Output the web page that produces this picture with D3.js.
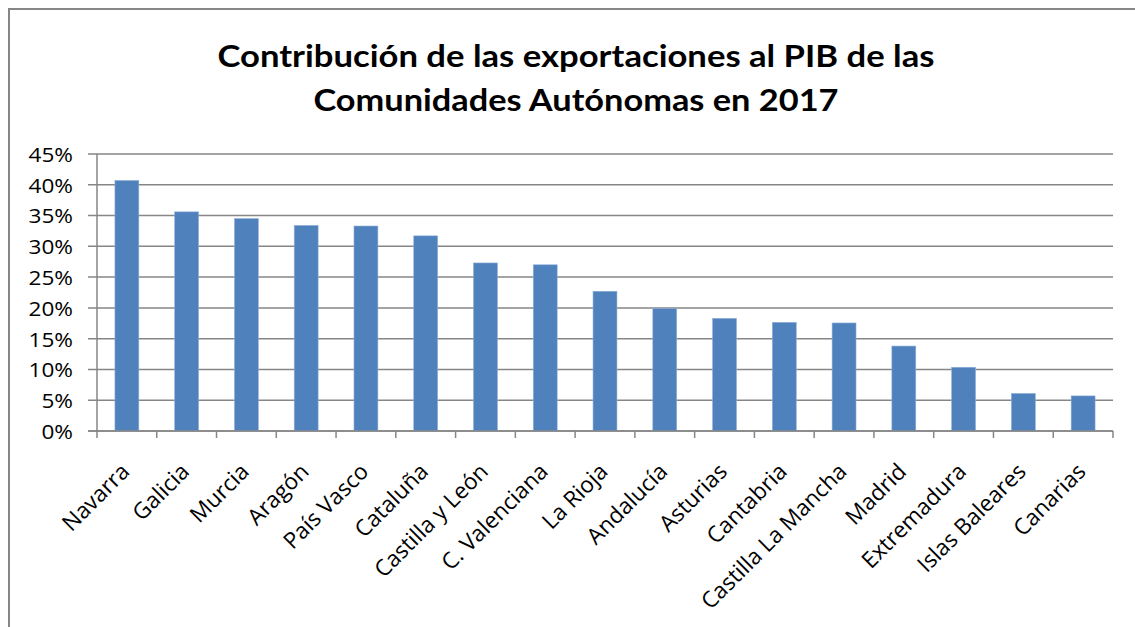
<!DOCTYPE html>
<html>
<head>
<meta charset="utf-8">
<script src="https://cdn.jsdelivr.net/npm/d3@7"></script>
<style>
  html, body { margin: 0; padding: 0; background: #fff; }
  svg { display: block; }
</style>
</head>
<body>
<svg id="chart" width="1135" height="627"></svg>
<script>
const titleLines = ["Contribución de las exportaciones al PIB de las", "Comunidades Autónomas en 2017"];
const categories = ["Navarra", "Galicia", "Murcia", "Aragón", "País Vasco", "Cataluña", "Castilla y León",
  "C. Valenciana", "La Rioja", "Andalucía", "Asturias", "Cantabria", "Castilla La Mancha", "Madrid",
  "Extremadura", "Islas Baleares", "Canarias"];
const values = [0.407, 0.356, 0.345, 0.334, 0.333, 0.317, 0.273, 0.270, 0.227, 0.199, 0.183, 0.1765, 0.1755,
  0.138, 0.1035, 0.061, 0.057];
const yTicks = [0, 0.05, 0.10, 0.15, 0.20, 0.25, 0.30, 0.35, 0.40, 0.45];

(function () {
const svg = d3.select("#chart");
const FONT = "'Open Sans', 'Noto Sans', sans-serif";
const TITLE_FONT = "Lato, 'Open Sans', sans-serif";

// chart border
svg.append("rect")
  .attr("x", 9).attr("y", 9).attr("width", 1140).attr("height", 640)
  .attr("fill", "#fff").attr("stroke", "#868686").attr("stroke-width", 2);

const pLeft = 97, pRight = 1113, pTop = 154, pBottom = 431;

const x = d3.scaleBand().domain(categories).range([pLeft, pRight]).paddingInner(0.6).paddingOuter(0.3);
const y = d3.scaleLinear().domain([0, 0.45]).range([pBottom, pTop]);

// title
const titleWidths = [717, 525];
const titleY = [67, 111];
titleLines.forEach((t, i) => {
  svg.append("text")
    .attr("x", 576).attr("y", titleY[i])
    .attr("text-anchor", "middle")
    .attr("font-family", TITLE_FONT)
    .attr("font-weight", "bold")
    .attr("font-size", 31)
    .attr("fill", "#000")
    .attr("textLength", titleWidths[i]).attr("lengthAdjust", "spacingAndGlyphs")
    .text(t);
});

// gridlines
svg.append("g").selectAll("line").data(yTicks).join("line")
  .attr("x1", pLeft - 9).attr("x2", pRight)
  .attr("y1", d => y(d)).attr("y2", d => y(d))
  .attr("stroke", "#868686").attr("stroke-width", 1.5);

// y axis line
svg.append("line").attr("x1", pLeft).attr("x2", pLeft).attr("y1", pTop).attr("y2", pBottom)
  .attr("stroke", "#868686").attr("stroke-width", 1.5);

// y labels
const yAxis = d3.axisLeft(y).tickValues(yTicks).tickFormat(d3.format(".0%")).tickSize(0).tickPadding(0);
const yg = svg.append("g").attr("transform", `translate(${pLeft - 24},0)`).call(yAxis);
yg.select(".domain").remove();
yg.selectAll("text").attr("font-family", FONT).attr("font-size", 20.5).attr("fill", "#000")
  .attr("dy", "0.36em");
yg.selectAll("text").each(function () {
  const w = this.getComputedTextLength();
  d3.select(this).attr("textLength", w * 1.1).attr("lengthAdjust", "spacingAndGlyphs");
});

// bars
svg.append("g").selectAll("rect").data(values).join("rect")
  .attr("x", (d, i) => x(categories[i]))
  .attr("width", x.bandwidth())
  .attr("y", d => y(d))
  .attr("height", d => y(0) - y(d))
  .attr("fill", "#4f81bd")
  .attr("stroke", "#8fb0d8").attr("stroke-width", 0.6);

// x axis line and boundary ticks
svg.append("line").attr("x1", pLeft - 9).attr("x2", pRight).attr("y1", pBottom).attr("y2", pBottom)
  .attr("stroke", "#868686").attr("stroke-width", 1.5);
const boundaries = categories.map(c => x(c) - (x.step() - x.bandwidth()) / 2).concat([pRight]);
svg.append("g").selectAll("line").data(boundaries).join("line")
  .attr("x1", d => d).attr("x2", d => d).attr("y1", pBottom).attr("y2", pBottom + 7)
  .attr("stroke", "#868686").attr("stroke-width", 1.5);

// x labels
svg.append("g").selectAll("text").data(categories).join("text")
  .attr("font-family", FONT).attr("font-size", 22.5).attr("fill", "#000")
  .attr("text-anchor", "end")
  .attr("transform", c => `translate(${x(c) + x.bandwidth() / 2 + 4},${pBottom + 42}) rotate(-45)`)
  .text(c => c);
})();
</script>
</body>
</html>
